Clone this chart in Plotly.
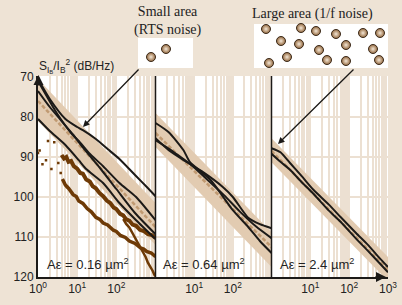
import plotly.graph_objects as go

# ---------------- data ----------------
band_freq = [1, 1000]

# Panel 1 : A = 0.16 um^2
p1_band_upper = [70.5, 101.5]
p1_band_lower = [81.0, 112.0]
p1_center = [76.0, 107.5]
p1_a_freq = [1, 2, 5, 10, 14, 30, 60, 120, 300, 600, 1000]
p1_a_db = [70.5, 75.5, 80.5, 82.5, 83.3, 85.5, 88.0, 90.5, 94.5, 97.5, 99.8]
p1_b_freq = [1, 3, 7, 11, 20, 46, 120, 320, 1000]
p1_b_db = [71.0, 79.0, 84.0, 86.0, 89.0, 92.3, 96.5, 100.0, 105.8]
p1_c_freq = [1, 2, 4, 8, 15, 40, 100, 300, 1000]
p1_c_db = [73.5, 77.5, 81.0, 84.5, 88.0, 93.0, 98.0, 104.0, 109.3]
p1_d_freq = [1, 2, 5, 11, 17, 46, 120, 320, 1000]
p1_d_db = [80.5, 83.5, 87.0, 90.8, 93.0, 96.5, 101.5, 105.8, 110.5]

# brown measured spectra (panel 1)
p1_br1_freq = [4.0, 4.6, 5.3, 6.0, 7.0, 8.2, 10, 12, 14, 17, 21, 25, 30, 37, 46, 57, 70, 85, 100, 125, 150, 180, 215, 260, 320, 400, 500, 640, 800, 1000]
p1_br1_db = [89.5, 90.4, 90.0, 91.2, 91.0, 92.3, 92.9, 94.0, 94.2, 95.6, 96.1, 97.3, 97.8, 99.0, 99.8, 100.9, 101.5, 102.6, 103.0, 104.2, 104.6, 105.6, 105.9, 106.9, 107.2, 108.2, 108.5, 109.3, 109.5, 110.2]
p1_br2_freq = [4.2, 5.0, 6.0, 7.9, 9.5, 11, 14, 18, 23, 30, 38, 46, 60, 84, 100, 127, 170, 215, 300, 410, 500, 590, 780, 1000]
p1_br2_db = [95.5, 97.0, 97.8, 99.4, 99.9, 101.0, 101.6, 102.9, 103.7, 105.1, 105.6, 106.5, 107.0, 108.3, 108.6, 109.6, 110.1, 111.0, 111.6, 112.7, 113.0, 113.6, 114.0, 114.9]
p1_br3_freq = [150, 180, 215, 260, 300, 360, 420, 500, 560, 640, 700, 800, 850, 930, 1000]
p1_br3_db = [105.5, 106.8, 107.6, 109.1, 110.0, 111.6, 112.5, 114.2, 115.0, 116.4, 117.0, 118.2, 118.5, 119.4, 119.8]
p1_dots_freq = [1.0, 1.1, 1.6, 1.8, 2.6, 3.3, 2.2, 1.3, 3.8, 5.5]
p1_dots_db = [89.0, 88.4, 90.8, 86.0, 86.3, 91.5, 93.0, 91.8, 94.0, 97.5]

# Panel 2 : A = 0.64 um^2
p2_band_upper = [79.0, 108.8]
p2_band_lower = [87.5, 117.5]
p2_center = [84.0, 112.5]
p2_a_freq = [1, 2.2, 5.3, 7.8, 27, 100, 250, 500, 1000]
p2_a_db = [81.5, 83.8, 88.3, 91.3, 95.8, 103.3, 107.5, 111.0, 114.0]
p2_b_freq = [1, 2.2, 6.5, 17, 55, 100, 250, 500, 1000]
p2_b_db = [85.3, 88.3, 91.3, 93.8, 97.5, 100.0, 105.2, 106.8, 107.8]
p2_c_freq = [1, 3, 8, 20, 60, 150, 400, 1000]
p2_c_db = [85.8, 88.8, 91.8, 95.3, 99.6, 103.6, 107.4, 110.3]

# Panel 3 : A = 2.4 um^2
p3_band_upper = [85.3, 115.0]
p3_band_lower = [91.3, 121.0]
p3_center = [88.5, 118.2]
p3_a_freq = [1, 1.7, 3, 6, 12, 30, 60, 150, 300, 600, 1000]
p3_a_db = [87.8, 88.8, 91.5, 94.8, 98.2, 101.9, 105.0, 109.0, 111.9, 115.2, 117.5]
p3_b_freq = [1, 1.7, 3, 6, 12, 30, 60, 150, 300, 600, 1000]
p3_b_db = [89.2, 91.2, 93.2, 96.3, 99.2, 103.4, 106.2, 110.4, 113.4, 116.5, 118.8]

# illustration particles (pixel positions in the inset boxes)
small_ball_x = [151, 166]
small_ball_y = [57, 49]
large_ball_x = [266, 301, 316, 336, 363, 380, 281, 299, 346, 319, 373, 287, 269, 327, 346, 379]
large_ball_y = [29, 28, 31, 34, 33, 33, 41, 44, 45, 50, 49, 57, 63, 60, 61, 60]

y_ticks = [70, 80, 90, 100, 110, 120]
grid_freqs = [m * 10 ** d for d in range(3) for m in range(1, 10)] + [1000]
p1_tick_labels = {1: "10<sup>0</sup>", 10: "10<sup>1</sup>", 100: "10<sup>2</sup>"}
p2_tick_labels = {10: "10<sup>1</sup>", 100: "10<sup>2</sup>"}
p3_tick_labels = {10: "10<sup>1</sup>", 100: "10<sup>2</sup>", 1000: "10<sup>3</sup>"}
area_labels = ["A\u03b5 = 0.16 \u00b5m<sup>2</sup>", "A\u03b5 = 0.64 \u00b5m<sup>2</sup>", "A\u03b5 = 2.4 \u00b5m<sup>2</sup>"]

# ---------------- styling ----------------
W, H = 402, 305
BG = "#eee3d5"
GRID = "#ece0d2"
BAND = "#e2cbb1"
CENTER = "#c09a72"
BLACK = "#1c1a18"
BROWN = "#6e3a06"
SANS = "Liberation Sans Narrow, Liberation Sans, Arial"
SERIF = "Liberation Serif, Times New Roman, serif"

def fx(p):
    return p / W

def fy(p):
    return 1 - p / H

X_LEFT, X_B1, X_B2, X_RIGHT = 38, 155.5, 271.5, 388
Y_TOP, Y_BOT = 76, 277

fig = go.Figure()

panels = [
    ("x", p1_band_upper, p1_band_lower, p1_center,
     [(p1_a_freq, p1_a_db), (p1_b_freq, p1_b_db), (p1_c_freq, p1_c_db), (p1_d_freq, p1_d_db)]),
    ("x2", p2_band_upper, p2_band_lower, p2_center,
     [(p2_a_freq, p2_a_db), (p2_b_freq, p2_b_db), (p2_c_freq, p2_c_db)]),
    ("x3", p3_band_upper, p3_band_lower, p3_center,
     [(p3_a_freq, p3_a_db), (p3_b_freq, p3_b_db)]),
]

for i, (xa, up, lo, cen, lines) in enumerate(panels):
    fig.add_trace(go.Scatter(
        x=band_freq + band_freq[::-1], y=up + lo[::-1],
        fill="toself", fillcolor=BAND, line=dict(width=0), mode="lines",
        xaxis=xa, yaxis="y", hoverinfo="skip", showlegend=False))
    if i == 0:
        for fr, db, w in [(p1_br1_freq, p1_br1_db, 4.0), (p1_br2_freq, p1_br2_db, 3.5),
                          (p1_br3_freq, p1_br3_db, 2.5)]:
            fig.add_trace(go.Scatter(x=fr, y=db, mode="lines",
                                     line=dict(color=BROWN, width=w),
                                     xaxis=xa, yaxis="y", showlegend=False))
        fig.add_trace(go.Scatter(x=p1_dots_freq, y=p1_dots_db, mode="markers",
                                 marker=dict(color=BROWN, size=2.5, symbol="square"),
                                 xaxis=xa, yaxis="y", showlegend=False))
    fig.add_trace(go.Scatter(
        x=band_freq, y=cen, mode="lines",
        line=dict(color=CENTER, width=2.5, dash="4px,2px"),
        xaxis=xa, yaxis="y", showlegend=False))
    for fr, db in lines:
        fig.add_trace(go.Scatter(x=fr, y=db, mode="lines",
                                 line=dict(color=BLACK, width=2, shape="spline", smoothing=0.6),
                                 xaxis=xa, yaxis="y", showlegend=False))

# particles (radial gradient: gradient.color is the centre colour)
for bx, by in [(small_ball_x, small_ball_y), (large_ball_x, large_ball_y)]:
    fig.add_trace(go.Scatter(
        x=bx, y=by, mode="markers", xaxis="x4", yaxis="y2", showlegend=False,
        marker=dict(size=9, color="#94693f",
                    gradient=dict(type="radial", color="#f4e7d6"),
                    line=dict(color="#3b2a1a", width=1))))

def xaxis_cfg(d0, d1, labels):
    major = list(labels.keys())
    return dict(
        type="log", range=[0, 3], domain=[fx(d0), fx(d1)], anchor="y",
        automargin=False,
        tickvals=major, ticktext=[labels[v] for v in major],
        ticks="", showgrid=True, gridcolor=GRID, gridwidth=2, zeroline=False,
        minor=dict(tickvals=[v for v in grid_freqs if v not in labels], ticks="",
                   showgrid=True, gridcolor=GRID, gridwidth=2),
        showline=True, linecolor=BLACK, linewidth=2,
        tickfont=dict(family=SANS, size=12, color="#222"), fixedrange=True)

fig.update_layout(
    width=W, height=H, margin=dict(l=0, r=0, t=0, b=0, pad=0), autosize=False,
    paper_bgcolor=BG, plot_bgcolor="rgba(0,0,0,0)",
    xaxis=xaxis_cfg(X_LEFT, X_B1, p1_tick_labels),
    xaxis2=xaxis_cfg(X_B1, X_B2, p2_tick_labels),
    xaxis3=xaxis_cfg(X_B2, X_RIGHT, p3_tick_labels),
    yaxis=dict(range=[120, 69.75], domain=[fy(Y_BOT), fy(Y_TOP)], anchor="x",
               automargin=False,
               tickvals=y_ticks, ticktext=[str(v) for v in y_ticks], ticks="",
               showgrid=True, gridcolor=GRID, gridwidth=2.5, zeroline=False,
               showline=True, linecolor=BLACK, linewidth=2,
               tickfont=dict(family=SANS, size=12, color="#222")),
    xaxis4=dict(domain=[0, 1], range=[0, W], anchor="y2", visible=False, automargin=False),
    yaxis2=dict(domain=[0, 1], range=[H, 0], anchor="x4", visible=False, automargin=False),
    showlegend=False,
)

shapes = [
    dict(type="rect", xref="paper", yref="paper", x0=fx(X_LEFT), x1=fx(X_RIGHT),
         y0=fy(Y_BOT), y1=fy(Y_TOP), fillcolor="white", line=dict(width=0), layer="below"),
    dict(type="rect", xref="paper", yref="paper", x0=fx(138), x1=fx(193),
         y0=fy(68), y1=fy(38), fillcolor="white", line=dict(width=0), layer="below"),
    dict(type="rect", xref="paper", yref="paper", x0=fx(254), x1=fx(388),
         y0=fy(68), y1=fy(24), fillcolor="white", line=dict(width=0), layer="below"),
]
for xb in (X_B1, X_B2):
    shapes.append(dict(type="line", xref="paper", yref="paper", x0=fx(xb), x1=fx(xb),
                       y0=fy(Y_BOT), y1=fy(Y_TOP), line=dict(color=BLACK, width=1.5)))
fig.update_layout(shapes=shapes)

ann = []
# pointer arrows from the insets
ann.append(dict(xref="paper", yref="paper", x=fx(83), y=fy(127), ax=57, ay=-59, text="",
                showarrow=True, arrowhead=2, arrowsize=1, arrowwidth=1.3, arrowcolor=BLACK))
ann.append(dict(xref="paper", yref="paper", x=fx(278), y=fy(144), ax=77, ay=-76, text="",
                showarrow=True, arrowhead=2, arrowsize=1, arrowwidth=1.3, arrowcolor=BLACK))
# axis arrowheads
ann.append(dict(xref="paper", yref="paper", x=fx(38.5), y=fy(75), ax=0, ay=12, text="",
                showarrow=True, arrowhead=2, arrowsize=1, arrowwidth=2, arrowcolor=BLACK))
ann.append(dict(xref="paper", yref="paper", x=fx(386), y=fy(277), ax=-12, ay=0, text="",
                showarrow=True, arrowhead=2, arrowsize=1, arrowwidth=2, arrowcolor=BLACK))
# texts
ann.append(dict(xref="paper", yref="paper", x=fx(37), y=fy(66), xanchor="left", yanchor="middle",
                text="S<sub>I<sub>B</sub></sub>/I<sub>B</sub><sup>2</sup> (dB/Hz)", showarrow=False,
                font=dict(family=SANS, size=12, color="#222")))
ann.append(dict(xref="paper", yref="paper", x=fx(168), y=fy(21), xanchor="center", yanchor="middle",
                text="Small area<br>(RTS noise)", showarrow=False, align="center",
                font=dict(family=SERIF, size=14, color="#222")))
ann.append(dict(xref="paper", yref="paper", x=fx(312), y=fy(14), xanchor="center", yanchor="middle",
                text="Large area (1/f noise)", showarrow=False,
                font=dict(family=SERIF, size=14, color="#222")))
for cx, t in zip([88, 204, 317], area_labels):
    ann.append(dict(xref="paper", yref="paper", x=fx(cx), y=fy(264), xanchor="center", yanchor="middle",
                    text=t, showarrow=False, font=dict(family=SANS, size=13, color="#222")))
fig.update_layout(annotations=ann)

fig.write_html(
    "out.html",
    config={"displayModeBar": False, "staticPlot": True},
    post_script="document.body.style.margin='0';document.body.style.background='#eee3d5';"
                "document.documentElement.style.overflow='hidden';",
)
